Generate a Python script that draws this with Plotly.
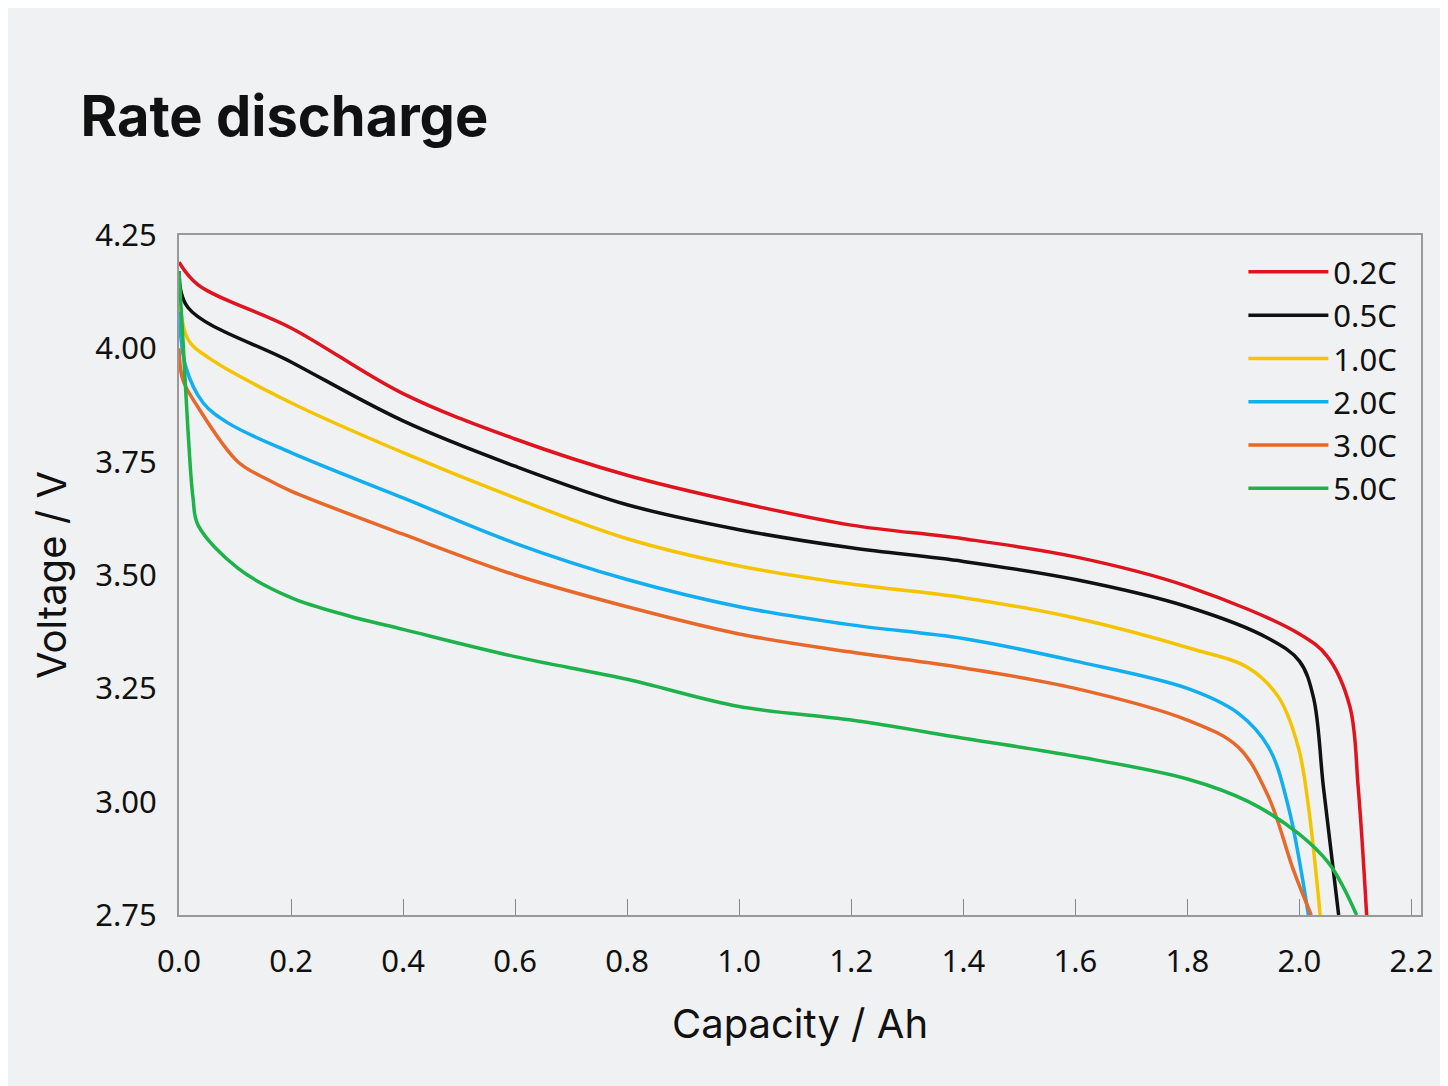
import plotly.graph_objects as go

names = ["0.2C", "0.5C", "1.0C", "2.0C", "3.0C", "5.0C"]
colors = ["#e0141e", "#111111", "#f5c400", "#12aef0", "#e8682a", "#1db34a"]

cap_02 = [0, 0.034, 0.2, 0.4, 0.6, 0.8, 1.0, 1.2, 1.4, 1.6, 1.8, 2.0, 2.05, 2.09, 2.105, 2.12]
v_02 = [4.19, 4.14, 4.045, 3.90, 3.80, 3.72, 3.66, 3.61, 3.58, 3.54, 3.475, 3.37, 3.32, 3.21, 3.03, 2.75]
cap_05 = [0, 0.016, 0.2, 0.4, 0.6, 0.8, 1.0, 1.2, 1.4, 1.6, 1.8, 1.945, 2.0, 2.025, 2.043, 2.07]
v_05 = [4.17, 4.09, 3.97, 3.84, 3.74, 3.655, 3.60, 3.56, 3.53, 3.49, 3.43, 3.36, 3.31, 3.23, 3.03, 2.75]
cap_10 = [0, 0.016, 0.052, 0.2, 0.4, 0.6, 0.8, 1.0, 1.2, 1.4, 1.6, 1.8, 1.909, 1.963, 1.998, 2.016, 2.037]
v_10 = [4.12, 4.02, 3.98, 3.88, 3.77, 3.67, 3.58, 3.52, 3.48, 3.45, 3.405, 3.34, 3.295, 3.23, 3.12, 2.99, 2.75]
cap_20 = [0, 0.012, 0.043, 0.088, 0.2, 0.4, 0.6, 0.8, 1.0, 1.2, 1.4, 1.6, 1.8, 1.891, 1.945, 1.98, 2.016]
v_20 = [4.08, 3.96, 3.88, 3.835, 3.77, 3.67, 3.57, 3.49, 3.43, 3.39, 3.36, 3.31, 3.25, 3.195, 3.12, 2.99, 2.75]
cap_30 = [0, 0.007, 0.034, 0.105, 0.159, 0.2, 0.4, 0.6, 0.8, 1.0, 1.2, 1.4, 1.6, 1.8, 1.891, 1.945, 1.989, 2.021]
v_30 = [4.00, 3.93, 3.87, 3.75, 3.71, 3.685, 3.59, 3.50, 3.43, 3.37, 3.33, 3.295, 3.25, 3.18, 3.12, 3.01, 2.85, 2.75]
cap_50 = [0, 0.007, 0.016, 0.025, 0.034, 0.105, 0.2, 0.302, 0.4, 0.6, 0.8, 1.0, 1.2, 1.4, 1.6, 1.8, 1.909, 1.998, 2.052, 2.079, 2.102]
v_50 = [4.17, 4.02, 3.82, 3.67, 3.61, 3.515, 3.45, 3.41, 3.38, 3.32, 3.27, 3.21, 3.18, 3.14, 3.10, 3.05, 3.00, 2.93, 2.865, 2.81, 2.75]

caps = [cap_02, cap_05, cap_10, cap_20, cap_30, cap_50]
volts = [v_02, v_05, v_10, v_20, v_30, v_50]

fig = go.Figure()
for n, c, x, y in zip(names, colors, caps, volts):
    fig.add_trace(go.Scatter(x=x, y=y, mode="lines", name=n,
                             line=dict(color=c, width=3.5, shape="spline", smoothing=1.0)))

bg = "#f0f1f3"
fig.update_layout(
    width=1448, height=1086, paper_bgcolor=bg, plot_bgcolor=bg,
    margin=dict(l=171, r=35, t=227, b=179),
    font=dict(family="Noto Sans", color="#111111"),
    title=dict(text="<b>Rate discharge</b>", x=0.05, y=0.9, xanchor="left", yanchor="middle",
               font=dict(family="Inter", size=56, color="#111111")),
    legend=dict(x=0.985, y=0.985, xanchor="right", yanchor="top", bgcolor="rgba(0,0,0,0)",
                font=dict(size=31), itemwidth=80, tracegroupgap=6),
    showlegend=True,
)
fig.update_xaxes(range=[0, 2.217], tickvals=[0, 0.2, 0.4, 0.6, 0.8, 1.0, 1.2, 1.4, 1.6, 1.8, 2.0, 2.2],
                 ticktext=["0.0", "0.2", "0.4", "0.6", "0.8", "1.0", "1.2", "1.4", "1.6", "1.8", "2.0", "2.2"],
                 ticks="inside", ticklen=16, tickcolor="#888888", showgrid=False, zeroline=False,
                 showline=True, linecolor="#999999", linewidth=2, mirror=True, ticklabelstandoff=18,
                 tickfont=dict(size=31), title=dict(text="Capacity / Ah", font=dict(family="Inter", size=40), standoff=30))
fig.update_yaxes(range=[2.75, 4.25], tickvals=[2.75, 3.0, 3.25, 3.5, 3.75, 4.0, 4.25],
                 ticktext=["2.75", "3.00", "3.25", "3.50", "3.75", "4.00", "4.25"],
                 ticks="", showgrid=False, zeroline=False, ticklabelstandoff=14,
                 showline=True, linecolor="#999999", linewidth=2, mirror=True,
                 tickfont=dict(size=31), title=dict(text="Voltage / V", font=dict(family="Inter", size=40), standoff=16))

fig.write_html("out.html")
